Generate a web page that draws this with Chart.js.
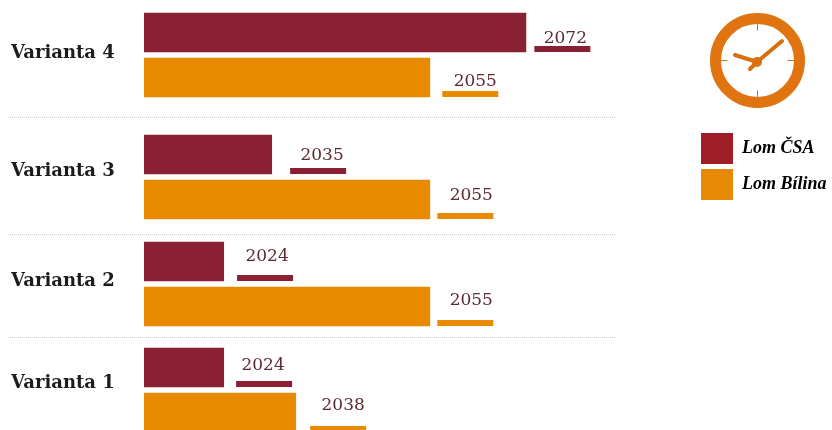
<!DOCTYPE html>
<html>
<head>
<meta charset="utf-8">
<style>html,body{margin:0;padding:0;background:#fff}canvas{display:block}</style>
<script src="https://cdn.jsdelivr.net/npm/chart.js@4"></script>
</head>
<body>
<canvas id="c" width="832" height="430"></canvas>
<script>
// Mine closure years per mining variant
const variants = ['Varianta 4', 'Varianta 3', 'Varianta 2', 'Varianta 1'];
const lomCsa = [2072, 2035, 2024, 2024];
const lomBilina = [2055, 2055, 2055, 2038];

const INK = '#5b2b33';
const SERIF = '"DejaVu Serif", serif';

// Time axis of the infographic: not proportional, so it is stretched between stops
class StretchedYearScale extends Chart.LinearScale {
  static id = 'stretchedYear';
  static defaults = Chart.LinearScale.defaults;
  getPixelForValue(v) {
    const ys = this.options.stopYears, fs = this.options.stopFractions;
    let i = 0;
    while (i < ys.length - 2 && v > ys[i + 1]) i++;
    const f = fs[i] + (v - ys[i]) / (ys[i + 1] - ys[i]) * (fs[i + 1] - fs[i]);
    return this.left + f * this.width;
  }
}

// Variant rows are unevenly spaced; captions sit slightly above the row centre
class SpacedRowScale extends Chart.CategoryScale {
  static id = 'spacedRow';
  static defaults = Chart.CategoryScale.defaults;
  getPixelForValue(v) { return this.options.rowCentres[typeof v === 'number' ? v : this.parse(v)]; }
  getPixelForTick(i) { return this.options.captionCentres[i]; }
}
Chart.register(StretchedYearScale, SpacedRowScale);

// Short underline and year beside the end of each bar
const yearMarkers = {
  id: 'yearMarkers',
  afterDatasetsDraw(chart, args, opts) {
    const { ctx } = chart;
    chart.data.datasets.forEach((ds, d) => {
      chart.getDatasetMeta(d).data.forEach((bar, i) => {
        const x = bar.x + opts.gaps[d][i];
        const bottom = bar.y + bar.height / 2 - 3;
        ctx.fillStyle = ds.backgroundColor;
        ctx.fillRect(x, bottom - 6, 56, 6);
        ctx.fillStyle = INK;
        ctx.font = '17px ' + SERIF;
        ctx.textAlign = 'center';
        ctx.textBaseline = 'alphabetic';
        ctx.fillText(String(ds.data[i]), x + 31 + opts.shifts[d][i], bottom - 9 - opts.lifts[d][i]);
      });
    });
  }
};

// Dotted rules between the variants
const separators = {
  id: 'separators',
  beforeDatasetsDraw(chart, args, opts) {
    const { ctx } = chart;
    ctx.save();
    ctx.strokeStyle = '#d0d0c6';
    ctx.lineWidth = 1;
    ctx.setLineDash([1, 1]);
    opts.rows.forEach(y => {
      ctx.beginPath();
      ctx.moveTo(8, y + .5);
      ctx.lineTo(opts.end, y + .5);
      ctx.stroke();
    });
    ctx.restore();
  }
};

// Clock pictogram above the legend
const clock = {
  id: 'clock',
  afterDraw(chart) {
    const { ctx } = chart;
    const cx = 757.5, cy = 60.5;
    ctx.save();
    ctx.strokeStyle = '#df7410';
    ctx.lineWidth = 11;
    ctx.beginPath();
    ctx.arc(cx, cy, 42, 0, Math.PI * 2);
    ctx.stroke();

    ctx.strokeStyle = '#c9701a';
    ctx.lineWidth = 1;
    [[0, -36.5, 0, -30], [0, 36.5, 0, 30], [-36.5, 0, -30, 0], [36.5, 0, 30, 0]].forEach(t => {
      ctx.beginPath();
      ctx.moveTo(cx + t[0], cy + t[1]);
      ctx.lineTo(cx + t[2], cy + t[3]);
      ctx.stroke();
    });

    ctx.strokeStyle = '#d9700e';
    ctx.lineCap = 'round';
    ctx.lineWidth = 4;
    [[782, 41], [735, 55], [750, 69]].forEach(p => {
      ctx.beginPath();
      ctx.moveTo(757, 62);
      ctx.lineTo(p[0], p[1]);
      ctx.stroke();
    });
    ctx.fillStyle = '#d9700e';
    ctx.beginPath();
    ctx.arc(757, 62, 5, 0, Math.PI * 2);
    ctx.fill();
    ctx.restore();
  }
};

// The legend block sits under the clock instead of at the top right
const legendPlacement = {
  id: 'legendPlacement',
  afterLayout(chart) {
    chart.legend.left = 696;
    chart.legend.top = 128;
  }
};

new Chart(document.getElementById('c'), {
  type: 'bar',
  data: {
    labels: variants,
    datasets: [
      { label: 'Lom ČSA', data: lomCsa, backgroundColor: '#8a2033', swatch: '#9e1e26' },
      { label: 'Lom Bílina', data: lomBilina, backgroundColor: '#e98b00', swatch: '#e68a05' }
    ]
  },
  plugins: [separators, yearMarkers, clock, legendPlacement],
  options: {
    indexAxis: 'y',
    responsive: false,
    animation: false,
    layout: { padding: { left: 11, right: 0, top: 0, bottom: 0 } },
    datasets: {
      bar: {
        base: 2000,
        barThickness: 45,
        borderWidth: { top: 3, bottom: 3, left: 0, right: 0 },
        borderColor: '#ffffff',
        borderSkipped: false,
        clip: false
      }
    },
    scales: {
      x: {
        type: 'stretchedYear',
        display: false,
        min: 2000,
        max: 2100,
        stopYears: [2000, 2024, 2035, 2038, 2055, 2072, 2100],
        stopFractions: [0, 0.1463, 0.234, 0.2779, 0.5229, 0.6984, 1]
      },
      y: {
        type: 'spacedRow',
        rowCentres: [55, 177, 284, 390],
        captionCentres: [53, 171, 281, 383],
        grid: { display: false },
        border: { display: false },
        afterFit(scale) { scale.width = 133; },
        ticks: {
          crossAlign: 'far',
          color: '#1c1c1c',
          font: { family: SERIF, weight: 'bold', size: 18 }
        }
      }
    },
    plugins: {
      tooltip: { enabled: false },
      legend: {
        position: 'right',
        align: 'start',
        labels: {
          boxWidth: 32,
          boxHeight: 31,
          padding: 5,
          color: '#1c1c1c',
          font: { family: '"Liberation Serif", serif', weight: 'bold', style: 'italic', size: 18 },
          generateLabels(chart) {
            return chart.data.datasets.map((ds, i) => ({
              text: ds.label,
              fillStyle: ds.swatch,
              strokeStyle: ds.swatch,
              lineWidth: 0,
              datasetIndex: i,
              hidden: false
            }));
          }
        }
      },
      separators: { rows: [117, 234, 337], end: 616 },
      yearMarkers: {
        gaps: [[8, 18, 13, 12], [12, 7, 7, 14]],
        shifts: [[0, 1, -1, -4], [2, 3, 3, 2]],
        lifts: [[0, 5, 11, 8], [2, 10, 12, 13]]
      }
    }
  }
});
</script>
</body>
</html>
